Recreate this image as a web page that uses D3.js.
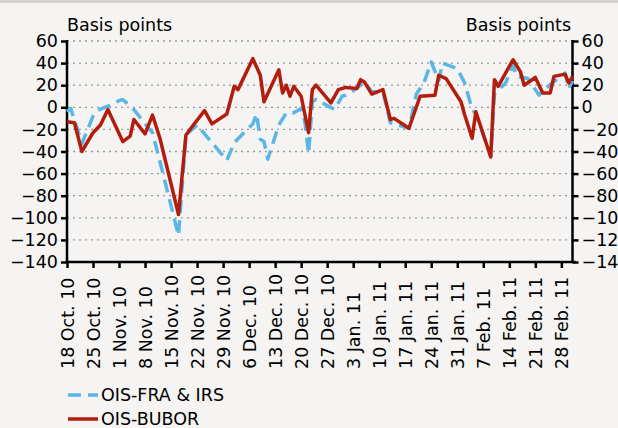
<!DOCTYPE html>
<html>
<head>
<meta charset="utf-8">
<script src="https://cdn.jsdelivr.net/npm/d3@7"></script>
<style>
  body { margin:0; background:#f5f4f2; }
  svg { display:block; font-family:"DejaVu Sans", sans-serif; }
</style>
</head>
<body>
<div id="chart"></div>
<script>
// OIS-FRA & IRS (blue dashed)
var fraDates = ['2010-10-18','2010-10-19','2010-10-21','2010-10-22','2010-10-25','2010-10-26','2010-10-29',
  '2010-11-01','2010-11-02','2010-11-05','2010-11-08','2010-11-10','2010-11-12','2010-11-17','2010-11-19',
  '2010-11-21','2010-11-22','2010-11-30','2010-12-02','2010-12-04','2010-12-07','2010-12-08','2010-12-09',
  '2010-12-10','2010-12-11','2010-12-14','2010-12-16','2010-12-18','2010-12-20','2010-12-21','2010-12-22',
  '2010-12-23','2010-12-24','2010-12-29','2010-12-31','2011-01-01','2011-01-03','2011-01-05','2011-01-06',
  '2011-01-08','2011-01-11','2011-01-13','2011-01-15','2011-01-18','2011-01-20','2011-01-22','2011-01-24',
  '2011-01-26','2011-01-27','2011-01-31','2011-02-02','2011-02-04','2011-02-05','2011-02-09','2011-02-10',
  '2011-02-13','2011-02-15','2011-02-16','2011-02-19','2011-02-22','2011-02-24','2011-03-01','2011-03-02',
  '2011-03-03'];
var fraValues = [-4,-1,-22,-33,-8,-3,1,
  6,7,-2,-15,-23,-49,-116,-25,
  -19,-16,-48,-32,-25,-15,-6,-29,
  -31,-47,-16,-5,-5,-1,-13,-42,
  5,7,-2,10,11,15,20,23,
  14,14,-14,-16,-19,12,22,41,
  24,40,35,22,-2,-6,-44,12,
  22,38,28,26,11,18,31,17,
  24];

// OIS-BUBOR (red solid)
var buborDates = ['2010-10-18','2010-10-20','2010-10-22','2010-10-25','2010-10-27','2010-10-29','2010-11-02',
  '2010-11-04','2010-11-05','2010-11-08','2010-11-10','2010-11-12','2010-11-17','2010-11-19','2010-11-21',
  '2010-11-24','2010-11-26','2010-11-30','2010-12-02','2010-12-03','2010-12-07','2010-12-09','2010-12-10',
  '2010-12-14','2010-12-15','2010-12-16','2010-12-17','2010-12-18','2010-12-20','2010-12-22','2010-12-23',
  '2010-12-24','2010-12-25','2010-12-28','2010-12-30','2011-01-01','2011-01-04','2011-01-05','2011-01-06',
  '2011-01-08','2011-01-11','2011-01-13','2011-01-14','2011-01-18','2011-01-21','2011-01-25','2011-01-26',
  '2011-01-28','2011-02-01','2011-02-02','2011-02-04','2011-02-05','2011-02-09','2011-02-10','2011-02-11',
  '2011-02-15','2011-02-17','2011-02-18','2011-02-21','2011-02-23','2011-02-25','2011-02-26','2011-03-01',
  '2011-03-02','2011-03-03'];
var buborValues = [-13,-14,-40,-23,-16,-2,-31,
  -26,-11,-24,-7,-28,-97,-25,-16,
  -3,-15,-6,19,16,44,29,5,
  34,13,20,10,19,10,-23,16,
  20,16,4,16,18,17,25,23,
  12,16,-11,-10,-19,10,11,29,
  26,5,-7,-28,-4,-45,25,19,
  43,32,20,27,13,13,28,30,
  22,28];

var yTicks = [60,40,20,0,-20,-40,-60,-80,-100,-120,-140];
var seriesNames = ['OIS-FRA & IRS','OIS-BUBOR'];
var seriesColors = ['#5ab6e6','#b31d0e'];

var W = 618, H = 428;
var mLeft = 67, mRight = 572.5, mTop = 41, mBottom = 262;
var fs = 17.5;

var parse = d3.timeParse('%Y-%m-%d');
var svg = d3.select('#chart').append('svg').attr('width', W).attr('height', H);

svg.append('rect').attr('x',0).attr('y',0).attr('width',W).attr('height',H).attr('fill','#f5f4f2');
svg.append('rect').attr('x',0).attr('y',0).attr('width',W).attr('height',3).attr('fill','#d6d1cc');

var x = d3.scaleTime()
  .domain([parse('2010-10-18'), parse('2011-03-03')])
  .range([mLeft, mRight]);
var y = d3.scaleLinear().domain([-140, 60]).range([mBottom, mTop]);

// dotted gridlines
svg.append('g').selectAll('line')
  .data(yTicks.filter(function(d){ return d > -140 }))
  .enter().append('line')
  .attr('x1', mLeft).attr('x2', mRight)
  .attr('y1', function(d){ return y(d) }).attr('y2', function(d){ return y(d) })
  .attr('stroke', '#9a9a9a').attr('stroke-width', 1.3)
  .attr('stroke-dasharray', '2,4');

function fmtNum(d){ return d < 0 ? '\u2212' + Math.abs(d) : '' + d }

// axes
var yl = svg.append('g').attr('transform','translate('+mLeft+',0)')
  .call(d3.axisLeft(y).tickValues(yTicks).tickSize(6).tickFormat(fmtNum));
var yr = svg.append('g').attr('transform','translate('+mRight+',0)')
  .call(d3.axisRight(y).tickValues(yTicks).tickSize(6).tickFormat(fmtNum));

var weeks = d3.timeMonday.range(parse('2010-10-18'), parse('2011-03-01'));
var xa = svg.append('g').attr('transform','translate(0,'+mBottom+')')
  .call(d3.axisBottom(x).tickValues(weeks).tickSize(6).tickFormat(d3.timeFormat('%-d %b. %y')));

[yl, yr, xa].forEach(function(g){
  g.select('.domain').attr('stroke','#000').attr('stroke-width',2.5);
  g.selectAll('.tick line').attr('stroke','#000').attr('stroke-width',2.5);
  g.selectAll('text').attr('font-size', fs).attr('font-family','DejaVu Sans').attr('fill','#000');
});
yl.select('.domain').attr('d', 'M0,'+(mTop-1)+'V'+mBottom);
yr.select('.domain').attr('d', 'M0,'+(mTop-1)+'V'+mBottom);
xa.select('.domain').attr('d', 'M'+mLeft+',0H'+(mRight+3));
yl.selectAll('.tick text').attr('x', -9);
yr.selectAll('.tick text').attr('x', 9);

xa.selectAll('.tick text')
  .attr('text-anchor','start')
  .attr('transform','rotate(-90)')
  .attr('x', -107).attr('y', 0).attr('dy','0.35em');

// axis titles
svg.append('text').attr('x', mLeft).attr('y', 31).attr('font-size', fs).text('Basis points');
svg.append('text').attr('x', 571).attr('y', 31).attr('font-size', fs).attr('text-anchor','end').text('Basis points');

// lines
var line = d3.line()
  .x(function(d){ return x(d.date) })
  .y(function(d){ return y(d.value) });

var fra = fraDates.map(function(d,i){ return {date: parse(d), value: fraValues[i]} });
var bubor = buborDates.map(function(d,i){ return {date: parse(d), value: buborValues[i]} });

svg.append('path').datum(fra)
  .attr('d', line).attr('fill','none')
  .attr('stroke', seriesColors[0]).attr('stroke-width', 3.5)
  .attr('stroke-dasharray','13,7').attr('stroke-linejoin','round');

svg.append('path').datum(bubor)
  .attr('d', line).attr('fill','none')
  .attr('stroke', seriesColors[1]).attr('stroke-width', 3.5)
  .attr('stroke-linejoin','round');

// legend
var legend = svg.append('g').selectAll('g').data(seriesNames).enter().append('g')
  .attr('transform', function(d,i){ return 'translate(68,'+(395 + i*24)+')' });
legend.append('line')
  .attr('x1',0).attr('x2',30).attr('y1',0).attr('y2',0)
  .attr('stroke', function(d,i){ return seriesColors[i] })
  .attr('stroke-width', 3.5)
  .attr('stroke-dasharray', function(d,i){ return i == 0 ? '13,7' : null });
legend.append('text')
  .attr('x', 33).attr('y', 0).attr('dy','0.35em')
  .attr('font-size', fs)
  .text(function(d){ return d });
</script>
</body>
</html>
